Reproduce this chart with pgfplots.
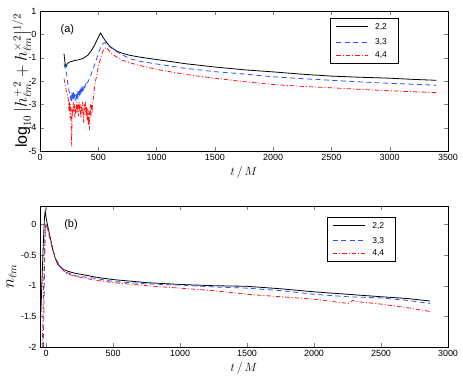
\documentclass[border=0pt]{standalone}
\usepackage{pgfplots}
\pgfplotsset{compat=1.18}
\usepackage{fontspec}
\setmainfont{Liberation Sans}
\definecolor{mblue}{RGB}{40,80,255}
\definecolor{mred}{RGB}{255,20,20}

\pgfplotsset{
  mstyle/.style={
    scale only axis, width=408bp,
    tick label style={font=\fontsize{9}{10}\selectfont},
    /pgf/number format/assume math mode=true,
    /pgf/number format/1000 sep={},
    tick align=inside, major tick length=4bp,
  },
}
\tikzset{
  c22/.style={draw=black, color=black, line width=0.8pt},
  c33/.style={draw=mblue, color=mblue, line width=0.8pt, dash pattern=on 5pt off 3.5pt},
  c44/.style={draw=mred, color=mred, line width=0.8pt, dash pattern=on 4.5pt off 2pt on 1pt off 2pt},
  legtxt/.style={anchor=west, inner sep=0pt, font=\fontsize{8.5}{10}\selectfont},
}

\begin{document}
\begin{tikzpicture}
\begin{axis}[mstyle, height=140bp,
  xmin=0, xmax=3500, ymin=-5, ymax=1,
  xtick={0,500,...,3500}, ytick={-5,-4,-3,-2,-1,0,1},
  yticklabels={-5,-4,-3,-2,-1,0,1},
  xlabel={$t\,/\,M$},
  every axis x label/.style={at={(axis description cs:0.5,-0.157)}, anchor=center, font=\fontsize{13}{15}\selectfont},
  ylabel={$\log_{10}|h^{+\,2}_{\ell m}+h^{\times\,2}_{\ell m}|^{1/2}$},
  every axis y label/.style={at={(axis description cs:-0.032,0.5)}, rotate=90, anchor=base, font=\fontsize{16}{18}\selectfont}]
\addplot[c22] coordinates {
(206,-0.83) (215,-1.25) (223,-1.4) (235,-1.25) (257,-1.18) (300,-1.12) (340,-1.08)
(372,-1.02) (410,-0.9) (443,-0.68) (470,-0.45) (486,-0.27) (505,-0.08) (520,0.06)
(535,-0.08) (557,-0.25) (580,-0.4) (600,-0.52) (658,-0.72) (700,-0.8) (772,-0.9)
(850,-0.97) (1000,-1.08) (1250,-1.26) (1500,-1.40) (1750,-1.52) (2000,-1.61)
(2250,-1.71) (2500,-1.79) (2750,-1.84) (3000,-1.88) (3200,-1.93) (3400,-1.97)};
\addplot[c33] coordinates {
(206,-1.25) (215,-1.45) (229,-1.7) (236,-2.0) (243,-2.25) (250,-2.45) (257,-2.6)
(262,-2.75) (266,-2.55) (270,-2.85) (274,-2.6) (278,-2.7) (282,-2.5) (286,-2.8)
(290,-2.6) (294,-2.75) (298,-2.55) (302,-2.85) (306,-2.6) (310,-2.7) (314,-2.5)
(318,-2.75) (322,-2.55) (326,-2.7) (330,-2.45) (334,-2.65) (338,-2.5) (342,-2.7)
(346,-2.45) (350,-2.6) (354,-2.4) (358,-2.55) (362,-2.35) (366,-2.5) (370,-2.3)
(375,-2.4) (380,-2.25) (385,-2.3) (390,-2.15) (395,-2.2) (400,-2.1) (410,-2.05)
(420,-1.95) (429,-1.85) (440,-1.7) (450,-1.55) (462,-1.4) (472,-1.25) (486,-1.05)
(500,-0.83) (515,-0.62) (529,-0.47) (545,-0.38) (557,-0.35) (572,-0.42) (600,-0.54)
(650,-0.72) (700,-0.86) (772,-1.04) (850,-1.15) (1000,-1.27) (1250,-1.46) (1500,-1.6)
(1750,-1.7) (2000,-1.82) (2250,-1.9) (2500,-1.97) (2750,-2.04) (3000,-2.1)
(3200,-2.14) (3400,-2.18)};
\addplot[c44] coordinates {
(206,-1.9) (215,-2.15) (225,-2.4) (235,-2.6) (243,-2.8) (249,-3.3) (254,-2.9)
(259,-3.6) (264,-3.0) (268,-3.9) (272,-4.8) (276,-3.2) (280,-3.5) (285,-2.9)
(290,-3.3) (295,-3.0) (300,-3.6) (305,-3.1) (310,-3.4) (315,-2.9) (320,-3.2)
(325,-3.0) (330,-3.5) (335,-2.9) (340,-3.3) (345,-3.0) (350,-3.6) (355,-3.1)
(360,-3.4) (365,-2.9) (370,-3.2) (375,-3.8) (380,-3.0) (385,-3.3) (390,-2.9)
(395,-3.5) (400,-3.1) (405,-3.7) (410,-3.2) (415,-3.9) (420,-3.3) (425,-4.1)
(429,-3.4) (433,-3.0) (438,-3.5) (443,-3.0) (448,-3.2) (453,-2.9) (457,-2.8)
(462,-2.5) (470,-2.2) (478,-1.95) (486,-1.8) (500,-1.4) (515,-1.1) (530,-0.85)
(543,-0.68) (557,-0.6) (572,-0.56) (590,-0.68) (615,-0.83) (650,-0.95) (700,-1.1)
(772,-1.22) (850,-1.33) (1000,-1.5) (1250,-1.72) (1500,-1.88) (1750,-2.03)
(2000,-2.15) (2250,-2.23) (2500,-2.29) (2750,-2.36) (3000,-2.42) (3200,-2.46)
(3400,-2.5)};
\node[font=\fontsize{11}{13}\selectfont] at (rel axis cs:0.067,0.869) {(a)};
% legend
\draw[black, line width=0.6pt, fill=white] (axis description cs:0.711,0.629) rectangle (axis description cs:0.877,0.95);
\node[legtxt] at (axis description cs:0.821,0.888) {2,2};
\node[legtxt] at (axis description cs:0.821,0.776) {3,3};
\node[legtxt] at (axis description cs:0.821,0.686) {4,4};
\draw[c22] (axis description cs:0.726,0.888) -- (axis description cs:0.804,0.888);
\draw[c33] (axis description cs:0.726,0.776) -- (axis description cs:0.804,0.776);
\draw[c44] (axis description cs:0.726,0.686) -- (axis description cs:0.804,0.686);
\end{axis}

\begin{axis}[mstyle, at={(0,-196bp)}, height=141bp,
  xmin=-45, xmax=3000, ymin=-2, ymax=0.3,
  xtick={0,500,...,3000}, ytick={-2,-1.5,-1,-0.5,0},
  yticklabels={-2,-1.5,-1,-0.5,0},
  xlabel={$t\,/\,M$},
  every axis x label/.style={at={(axis description cs:0.5,-0.156)}, anchor=center, font=\fontsize{13}{15}\selectfont},
  ylabel={$n_{\ell m}$},
  every axis y label/.style={at={(axis description cs:-0.064,0.5)}, rotate=90, anchor=base, font=\fontsize{16}{18}\selectfont}]
\addplot[c22] coordinates {
(-45,-1.72) (-38,-1.4) (-30,-0.9) (-20,-0.3) (-12,0.1) (-6,0.22) (0,0.12) (10,0.0)
(25,-0.15) (50,-0.41) (70,-0.56) (87,-0.65) (124,-0.73) (170,-0.77) (224,-0.8)
(300,-0.83) (368,-0.86) (500,-0.9) (750,-0.95) (1000,-0.98) (1250,-1.0) (1500,-1.01)
(1750,-1.05) (2000,-1.10) (2250,-1.14) (2500,-1.18) (2700,-1.21) (2866,-1.25)};
\addplot[c33] coordinates {
(-20,-2.0) (-15,-1.3) (-10,-0.6) (-5,-0.1) (0,0.02) (10,-0.05) (25,-0.2) (50,-0.42)
(70,-0.55) (100,-0.67) (150,-0.78) (224,-0.84) (368,-0.88) (500,-0.93) (750,-0.97)
(1000,-0.99) (1250,-1.02) (1500,-1.04) (1750,-1.08) (2000,-1.14) (2250,-1.18)
(2500,-1.2) (2700,-1.24) (2866,-1.29)};
\addplot[c44] coordinates {
(-28,-2.0) (-22,-1.4) (-15,-0.7) (-8,-0.15) (-3,0.0) (5,-0.02) (25,-0.18) (50,-0.4)
(70,-0.55) (100,-0.68) (150,-0.8) (224,-0.85) (368,-0.91) (500,-0.95) (750,-1.0)
(1000,-1.04) (1250,-1.08) (1500,-1.14) (1750,-1.18) (2000,-1.22) (2256,-1.29)
(2290,-1.24) (2320,-1.26) (2500,-1.3) (2700,-1.36) (2866,-1.42)};
\node[font=\fontsize{11}{13}\selectfont] at (rel axis cs:0.076,0.865) {(b)};
% legend
\draw[black, line width=0.6pt, fill=white] (axis description cs:0.704,0.605) rectangle (axis description cs:0.872,0.92);
\node[legtxt] at (axis description cs:0.814,0.860) {2,2};
\node[legtxt] at (axis description cs:0.814,0.754) {3,3};
\node[legtxt] at (axis description cs:0.814,0.665) {4,4};
\draw[c22] (axis description cs:0.718,0.860) -- (axis description cs:0.797,0.860);
\draw[c33] (axis description cs:0.718,0.754) -- (axis description cs:0.797,0.754);
\draw[c44] (axis description cs:0.718,0.665) -- (axis description cs:0.797,0.665);
\end{axis}
\pgfresetboundingbox
\path (-40bp,-228bp) rectangle (423bp,151bp);
\end{tikzpicture}
\end{document}
